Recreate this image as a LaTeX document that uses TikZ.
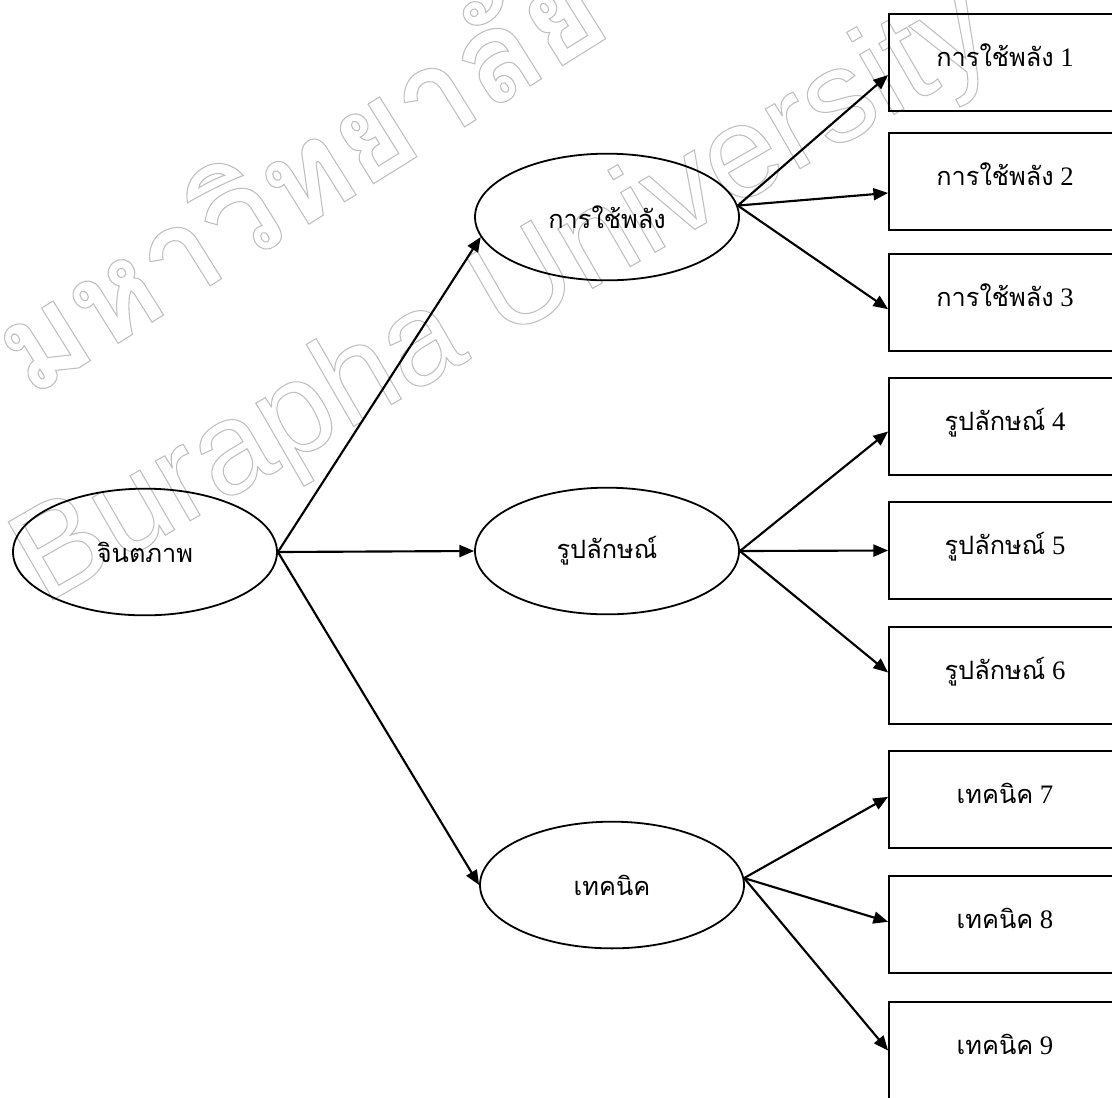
\documentclass[tikz,border=0pt]{standalone}
\usepackage{fontspec}
\setmainfont{Liberation Serif}
\newfontfamily\thai[Script=Thai]{Loma}
\newfontfamily\wmlatin{Liberation Sans}
\usetikzlibrary{shapes.geometric,arrows.meta}
\newcommand\outlined[1]{\special{pdf:literal direct 1 Tr 0.8 w}#1\special{pdf:literal direct 0 Tr}}
\newcommand\lblfont{\fontsize{20}{24}\selectfont}
\newcommand\thtxt[1]{{\thai\fontsize{19}{23}\selectfont #1}}
\tikzset{
  oval/.style={ellipse, draw, line width=1.35pt, minimum width=198pt, minimum height=95pt, inner sep=0pt, font=\lblfont},
  cbox/.style={rectangle, draw, line width=1.35pt, minimum width=174pt, minimum height=72.75pt, inner sep=0pt, font=\lblfont, text height=14pt, text depth=8pt},
  conn/.style={line width=1.6pt, -{Triangle[length=11pt,width=9pt]}},
  wm/.style={text=black!25, inner sep=0pt}
}
\begin{document}
\begin{tikzpicture}[x=0.75pt,y=-0.75pt]
\useasboundingbox (0,0) rectangle (1112,1097);
\clip (0,0) rectangle (1112,1097);
% watermark
\node[wm, rotate=30, font=\wmlatin\fontsize{98}{98}\selectfont] (wmA) at (505,300) {\outlined{Burapha University}};
\node[wm, rotate=32, font=\thai\bfseries\fontsize{95}{95}\selectfont] (wmB) at (295,172) {\outlined{มหาวิทยาลัย}};
% ellipses
\node[oval] (e0) at (145,552) {\thtxt{จินตภาพ}};
\node[oval] (e1) at (607,217) {\thtxt{การใช้พลัง}};
\node[oval] (e2) at (607,551) {\thtxt{รูปลักษณ์}};
\node[oval] (e3) at (612,885) {\thtxt{เทคนิค}};
% boxes
\node[cbox] (b1) at (1005,62.5) {\thtxt{การใช้พลัง} 1};
\node[cbox] (b2) at (1005,181.5) {\thtxt{การใช้พลัง} 2};
\node[cbox] (b3) at (1005,302.5) {\thtxt{การใช้พลัง} 3};
\node[cbox] (b4) at (1005,426.5) {\thtxt{รูปลักษณ์} 4};
\node[cbox] (b5) at (1005,550.5) {\thtxt{รูปลักษณ์} 5};
\node[cbox] (b6) at (1005,675.5) {\thtxt{รูปลักษณ์} 6};
\node[cbox] (b7) at (1005,799.5) {\thtxt{เทคนิค} 7};
\node[cbox] (b8) at (1005,924.5) {\thtxt{เทคนิค} 8};
\node[cbox] (b9) at (1005,1050.5) {\thtxt{เทคนิค} 9};
% connectors
\draw[conn] (e0.east) -- (e1.189);
\draw[conn] (e0.east) -- (e2.west);
\draw[conn] (e0.east) -- (e3.west);
\draw[conn] (e1.5) -- ([yshift=-9.4pt]b1.west);
\draw[conn] (e1.5) -- ([yshift=-8.6pt]b2.west);
\draw[conn] (e1.5) -- ([yshift=-5pt]b3.west);
\draw[conn] (e2.east) -- ([yshift=-3.75pt]b4.west);
\draw[conn] (e2.east) -- (b5.west);
\draw[conn] (e2.east) -- ([yshift=2.25pt]b6.west);
\draw[conn] (e3.3) -- ([yshift=2pt]b7.west);
\draw[conn] (e3.3) -- ([yshift=2pt]b8.west);
\draw[conn] (e3.3) -- (b9.west);
\end{tikzpicture}
\end{document}
